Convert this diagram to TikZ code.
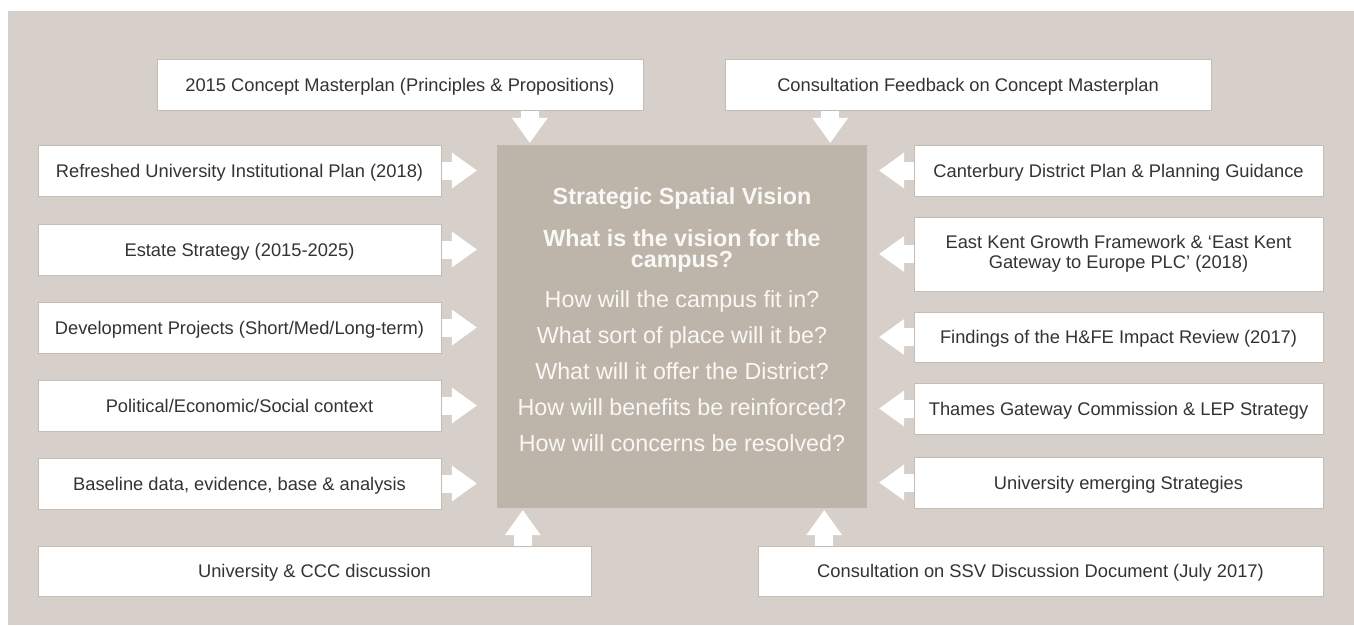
\documentclass[tikz,border=0pt]{standalone}
\usepackage{fontspec}
\setmainfont{Liberation Sans}
\usetikzlibrary{arrows.meta,calc}
\definecolor{bgc}{HTML}{D7D0CA}
\definecolor{ctrc}{HTML}{BDB5AA}
\definecolor{edgec}{HTML}{C6BDB2}
\definecolor{txtc}{HTML}{333333}
\definecolor{ctxt}{HTML}{FAF8F5}
\begin{document}
\begin{tikzpicture}[x=1pt,y=-1pt,
  infobox/.style={draw=edgec, line width=1pt, fill=white, text=txtc, inner sep=0pt,
    font=\fontsize{18.3}{17}\selectfont, text height=13.1pt, text depth=0pt},
  infobox2/.style={draw=edgec, line width=1pt, fill=white, text=txtc, inner sep=0pt,
    font=\fontsize{18.3}{20.5}\selectfont, align=center},
  ctrbox/.style={fill=ctrc, inner sep=0pt},
  ctrline/.style={anchor=base, text=ctxt, inner sep=0pt, font=\fontsize{23.3}{18}\selectfont},
  ctrbold/.style={ctrline, font=\fontsize{23.3}{18}\selectfont\bfseries},
  conn/.style={draw=white, line width=18pt, -{Triangle[width=36pt,length=25pt,line width=0pt]}}
]
\useasboundingbox (0,0) rectangle (1354,625);
\fill[bgc] (8,11) rectangle (1354,625);

% central box
\node[ctrbox, minimum width=370pt, minimum height=363pt] (ctr) at (682,326.5) {};
\node[ctrbold] (v1) at (682,204) {Strategic Spatial Vision};
\node[ctrbold] (v2) at (682,246) {What is the vision for the};
\node[ctrbold] (v3) at (682,267) {campus?};
\node[ctrline] (v4) at (682,307) {How will the campus fit in?};
\node[ctrline] (v5) at (682,343) {What sort of place will it be?};
\node[ctrline] (v6) at (682,379) {What will it offer the District?};
\node[ctrline] (v7) at (682,415) {How will benefits be reinforced?};
\node[ctrline] (v8) at (682,451) {How will concerns be resolved?};

% top boxes
\node[infobox, minimum width=486pt, minimum height=51pt] (t1) at (400,84.5) {2015 Concept Masterplan (Principles \& Propositions)};
\node[infobox, minimum width=486pt, minimum height=51pt] (t2) at (968,84.5) {Consultation Feedback on Concept Masterplan};

% left column
\node[infobox, minimum width=403pt, minimum height=51pt] (l1) at (239.5,170.5) {Refreshed University Institutional Plan (2018)};
\node[infobox, minimum width=403pt, minimum height=51pt] (l2) at (239.5,249.5) {Estate Strategy (2015-2025)};
\node[infobox, minimum width=403pt, minimum height=51pt] (l3) at (239.5,327.5) {Development Projects (Short/Med/Long-term)};
\node[infobox, minimum width=403pt, minimum height=51pt] (l4) at (239.5,405.5) {Political/Economic/Social context};
\node[infobox, minimum width=403pt, minimum height=51pt] (l5) at (239.5,483.5) {Baseline data, evidence, base \& analysis};

% right column
\node[infobox, minimum width=409pt, minimum height=51pt] (r1) at (1118.5,170.5) {Canterbury District Plan \& Planning Guidance};
\node[infobox2, minimum width=409pt, minimum height=74pt] (r2) at (1118.5,254) {East Kent Growth Framework \& ‘East Kent\\Gateway to Europe PLC’ (2018)};
\node[infobox, minimum width=409pt, minimum height=50pt] (r3) at (1118.5,337) {Findings of the H\&FE Impact Review (2017)};
\node[infobox, minimum width=409pt, minimum height=51pt] (r4) at (1118.5,408.5) {Thames Gateway Commission \& LEP Strategy};
\node[infobox, minimum width=409pt, minimum height=51pt] (r5) at (1118.5,482.5) {University emerging Strategies};

% bottom boxes
\node[infobox, minimum width=553pt, minimum height=50pt] (b1) at (314.5,571) {University \& CCC discussion};
\node[infobox, minimum width=565pt, minimum height=50pt] (b2) at (1040.5,571) {Consultation on SSV Discussion Document (July 2017)};

% arrow anchors on the central box
\coordinate (ta1) at ([xshift=33pt]ctr.north west);
\coordinate (ta2) at ([xshift=-37pt]ctr.north east);
\coordinate (ba1) at ([xshift=26pt]ctr.south west);
\coordinate (ba2) at ([xshift=-43pt]ctr.south east);

% connectors
\draw[conn, shorten >=2pt] (ta1 |- t1.south) -- (ta1);
\draw[conn, shorten >=2pt] (ta2 |- t2.south) -- (ta2);
\draw[conn, shorten >=2pt] (ba1 |- b1.north) -- (ba1);
\draw[conn, shorten >=2pt] (ba2 |- b2.north) -- (ba2);
\foreach \n in {l1,l2,l3,l4,l5}
  \draw[conn, shorten >=20pt] (\n.east) -- (\n.east -| ctr.west);
\foreach \n in {r1,r2,r3,r4,r5}
  \draw[conn, shorten >=12pt] (\n.west) -- (\n.west -| ctr.east);
\end{tikzpicture}
\end{document}
